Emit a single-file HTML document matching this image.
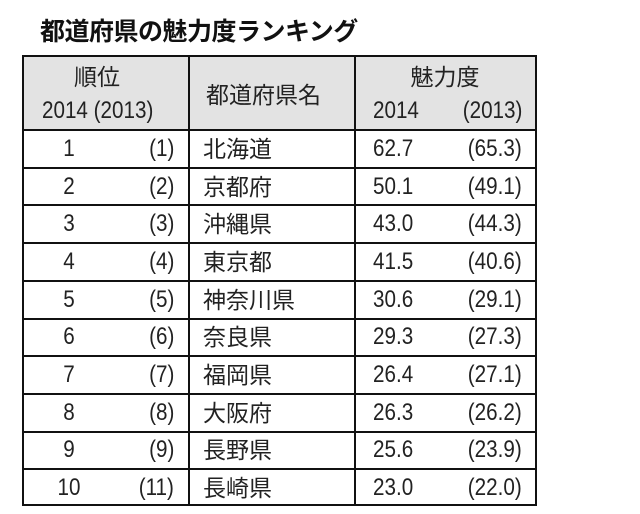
<!DOCTYPE html>
<html><head><meta charset="utf-8"><style>
body{margin:0;background:#fff;width:640px;height:514px;position:relative;overflow:hidden;font-family:"Liberation Sans","Noto Sans CJK JP",sans-serif;color:#222}
.t{position:absolute;white-space:nowrap;line-height:30px;height:30px}
#title{left:40px;top:17px;font-size:25px;font-weight:bold;color:#111;letter-spacing:-0.5px}
#tbl{position:absolute;left:22px;top:55px;width:515px;height:451px;border:2px solid #111;box-sizing:border-box}
.hdr{position:absolute;left:0;top:0;width:100%;height:74px;background:#e3e3e3;border-bottom:2px solid #111;box-sizing:border-box}
.vl{position:absolute;top:0;bottom:0;width:2px;background:#111}
.hl{position:absolute;left:0;right:0;height:2px;background:#111}
.c{font-size:24px;transform:scaleX(0.86);transform-origin:left center}
.j{font-size:23px}
</style></head><body>
<div id="title" class="t">都道府県の魅力度ランキング</div>
<div id="tbl">
<div class="hdr"></div>
<div class="vl" style="left:164px"></div>
<div class="vl" style="left:330px"></div>
</div>
<script>
const ranks2014=["1","2","3","4","5","6","7","8","9","10"];
const ranks2013=["(1)","(2)","(3)","(4)","(5)","(6)","(7)","(8)","(9)","(11)"];
const prefs=["北海道","京都府","沖縄県","東京都","神奈川県","奈良県","福岡県","大阪府","長野県","長崎県"];
const score2014=["62.7","50.1","43.0","41.5","30.6","29.3","26.4","26.3","25.6","23.0"];
const score2013=["(65.3)","(49.1)","(44.3)","(40.6)","(29.1)","(27.3)","(27.1)","(26.2)","(23.9)","(22.0)"];
const body=document.body;
// y = vertical centre of text
function txt(s,x,y,cls,name,align){
 const d=document.createElement('div');
 d.className='t '+cls;d.textContent=s;
 
 
 d.style.top=(y-15)+'px';
 const sc=cls==='c'?' scaleX(0.86)':'';
 if(align==='r'){d.style.right=(640-x)+'px';d.style.transformOrigin='right center';}
 else if(align==='c'){d.style.left=x+'px';d.style.transform='translateX(-50%)'+sc;d.style.transformOrigin='center center';}
 else d.style.left=x+'px';
 body.appendChild(d);return d;
}
txt('順位',97,77,'j','header-rank','c');
txt('2014 (2013)',42,111,'c','header-rank-years','l');
txt('都道府県名',206,95,'j','header-prefecture','l');
txt('魅力度',445,77,'j','header-score','c');
txt('2014',373,111,'c','header-score-2014','l');
txt('(2013)',522,111,'c','header-score-2013','r');
const rowTop=129,rowH=37.7;
const tbl=document.getElementById('tbl');
for(let i=0;i<prefs.length;i++){
 const y=rowTop+i*rowH;
 if(i>0){const l=document.createElement('div');l.className='hl';l.style.top=(y-55-2)+'px';
  
  
  tbl.appendChild(l);}
 const cy=y+rowH/2+1;
 txt(ranks2014[i],69,cy,'c','rank-2014','c');
 txt(ranks2013[i],174,cy,'c','rank-2013','r');
 txt(prefs[i],203,cy,'j','prefecture-name','l');
 txt(score2014[i],373,cy,'c','score-2014','l');
 txt(score2013[i],522,cy,'c','score-2013','r');
}
</script>
</body></html>
